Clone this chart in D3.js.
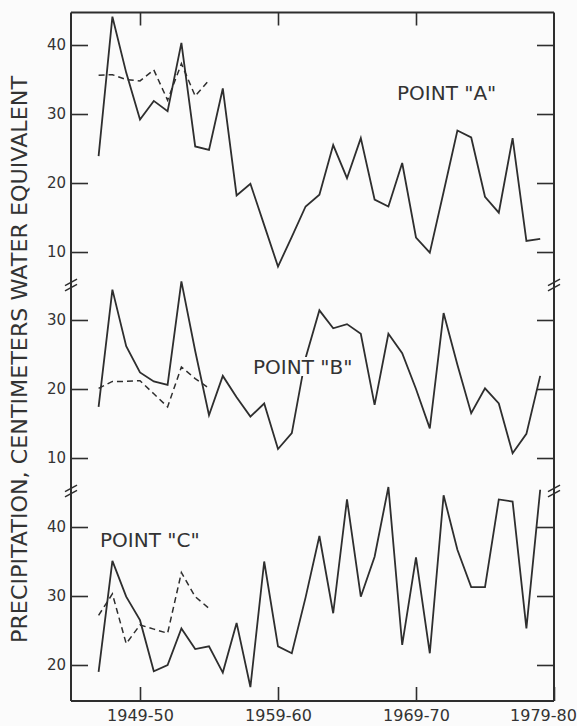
<!DOCTYPE html>
<html>
<head>
<meta charset="utf-8">
<script src="https://cdn.jsdelivr.net/npm/d3@7"></script>
<style>
  html, body { margin: 0; padding: 0; background: #fbfbfb; }
  svg { display: block; }
  text { font-family: "DejaVu Sans", sans-serif; fill: #333; }
</style>
</head>
<body>
<svg id="chart" width="577" height="726"></svg>
<script>
// ---------- DATA ----------
// water years: 1946 = 1946-47 ... 1978 = 1978-79
const waterYears = [1946,1947,1948,1949,1950,1951,1952,1953,1954,1955,1956,1957,1958,1959,1960,1961,1962,
                    1963,1964,1965,1966,1967,1968,1969,1970,1971,1972,1973,1974,1975,1976,1977,1978];
const xTickYears  = [1949, 1959, 1969, 1979];
const xTickLabels = ["1949-50", "1959-60", "1969-70", "1979-80"];

// Point "A" (cm water equivalent)
const pointA = [23.9, 44.1, 36.0, 29.2, 31.9, 30.4, 40.3, 25.3, 24.8, 33.7, 18.2, 19.9, 13.9, 7.9, 12.2, 16.6, 18.3,
                25.5, 20.7, 26.5, 17.6, 16.6, 22.9, 12.1, 9.9, 18.7, 27.6, 26.6, 18.0, 15.7, 26.5, 11.6, 11.9];
const pointADashed = [35.6, 35.7, 35.0, 34.8, 36.4, 32.0, 37.3, 32.6, 34.9];

// Point "B"
const pointB = [17.4, 34.4, 26.2, 22.4, 21.1, 20.6, 35.6, 25.5, 16.2, 21.9, 18.8, 16.0, 17.9, 11.3, 13.6, 24.5, 31.4,
                28.8, 29.4, 28.0, 17.7, 28.0, 25.2, 20.0, 14.3, 31.0, 23.5, 16.5, 20.1, 17.9, 10.7, 13.5, 21.9];
const pointBDashed = [20.1, 21.1, 21.1, 21.2, 19.3, 17.4, 23.2, 21.5, 20.1];

// Point "C"
const pointC = [19.0, 35.1, 29.9, 26.5, 19.1, 20.0, 25.3, 22.3, 22.7, 18.9, 26.1, 16.8, 35.0, 22.7, 21.7, 29.8, 38.7,
                27.5, 44.0, 29.9, 35.7, 45.8, 22.9, 35.6, 21.7, 44.6, 36.7, 31.3, 31.3, 44.0, 43.7, 25.3, 45.4];
const pointCDashed = [27.2, 30.3, 23.1, 25.8, 25.2, 24.6, 33.4, 29.9, 28.2];

const ticksA = [10, 20, 30, 40];
const ticksB = [10, 20, 30];
const ticksC = [20, 30, 40];

const panelLabels = ['POINT "A"', 'POINT "B"', 'POINT "C"'];
const yTitle = "PRECIPITATION, CENTIMETERS WATER EQUIVALENT";

// ---------- LAYOUT ----------
const plotL = 71, plotR = 554, plotT = 12.5, plotB = 701;
const breakAB = 285, breakBC = 491;
const ink = "#2e2e2e";

const svg = d3.select("#chart");
svg.append("rect").attr("width", 577).attr("height", 726).attr("fill", "#fbfbfb");

const x = d3.scaleLinear().domain([1944, 1979]).range([plotL, plotR]);

const panels = [
  { solid: pointA, dashed: pointADashed, ticks: ticksA, label: panelLabels[0],
    y: d3.scaleLinear().domain([5.22, 44.71]).range([breakAB, plotT]), lx: 397, ly: 100, mask: false },
  { solid: pointB, dashed: pointBDashed, ticks: ticksB, label: panelLabels[1],
    y: d3.scaleLinear().domain([5.22, 35.07]).range([breakBC, breakAB]), lx: 253, ly: 374, mask: true },
  { solid: pointC, dashed: pointCDashed, ticks: ticksC, label: panelLabels[2],
    y: d3.scaleLinear().domain([14.78, 45.22]).range([plotB, breakBC]), lx: 100, ly: 547, mask: false }
];

// frame
const frame = svg.append("g").attr("stroke", ink).attr("stroke-width", 2).attr("fill", "none");
frame.append("line").attr("x1", plotL).attr("x2", plotL).attr("y1", plotT).attr("y2", plotB);
frame.append("line").attr("x1", plotR).attr("x2", plotR).attr("y1", plotT).attr("y2", plotB);
frame.append("line").attr("x1", plotL).attr("x2", plotR).attr("y1", plotT).attr("y2", plotT);
frame.append("line").attr("x1", plotL).attr("x2", plotR).attr("y1", plotB).attr("y2", plotB);

function styleAxis(g) {
  g.select(".domain").remove();
  g.selectAll(".tick line").attr("stroke", ink).attr("stroke-width", 1.6);
  g.selectAll(".tick text").attr("fill", "#333").style("font-family", '"DejaVu Sans", sans-serif');
}

// y axes per panel
panels.forEach(p => {
  svg.append("g").attr("transform", `translate(${plotL},0)`)
    .call(d3.axisLeft(p.y).tickValues(p.ticks).tickSizeInner(-17).tickSizeOuter(0).tickPadding(5).tickFormat(d3.format("d")))
    .call(styleAxis)
    .selectAll(".tick text").style("font-size", "15px");
  svg.append("g").attr("transform", `translate(${plotR},0)`)
    .call(d3.axisRight(p.y).tickValues(p.ticks).tickSizeInner(-17).tickSizeOuter(0).tickFormat(""))
    .call(styleAxis);
});

// x axes
const xb = svg.append("g").attr("transform", `translate(0,${plotB})`)
  .call(d3.axisBottom(x).tickValues(xTickYears).tickSizeInner(-14).tickSizeOuter(0).tickPadding(9)
        .tickFormat((d, i) => xTickLabels[i]))
  .call(styleAxis);
xb.selectAll(".tick text").style("font-size", "16px")
  .attr("dx", (d, i) => i === xTickYears.length - 1 ? -11 : 0);
svg.append("g").attr("transform", `translate(0,${plotT})`)
  .call(d3.axisTop(x).tickValues(xTickYears.slice(0, 3)).tickSizeInner(-13).tickSizeOuter(0).tickFormat(""))
  .call(styleAxis);

// break marks
[breakAB, breakBC].forEach(by => {
  [plotL, plotR].forEach(bx => {
    [-2.6, 2.6].forEach(o => {
      svg.append("line")
        .attr("x1", bx - 6).attr("y1", by + o + 3.2)
        .attr("x2", bx + 6).attr("y2", by + o - 3.2)
        .attr("stroke", ink).attr("stroke-width", 1.5);
    });
  });
});

// series
panels.forEach(p => {
  const lineGen = d3.line().x((d, i) => x(waterYears[i])).y(d => p.y(d));
  svg.append("path").datum(p.solid).attr("d", lineGen)
    .attr("fill", "none").attr("stroke", ink).attr("stroke-width", 1.8).attr("stroke-linejoin", "miter");
  svg.append("path").datum(p.dashed).attr("d", lineGen)
    .attr("fill", "none").attr("stroke", ink).attr("stroke-width", 1.5).attr("stroke-dasharray", "6,4");
});

// panel labels
panels.forEach(p => {
  const g = svg.append("g");
  const t = g.append("text").attr("x", p.lx).attr("y", p.ly)
    .style("font-size", "20px").text(p.label);
  if (p.mask) {
    const bb = t.node().getBBox();
    g.insert("rect", "text").attr("x", bb.x - 2).attr("y", p.ly - 17).attr("width", bb.width + 4).attr("height", 19)
      .attr("fill", "#fbfbfb");
  }
});

// y title
svg.append("text")
  .attr("transform", `translate(27,${359.5}) rotate(-90)`)
  .attr("text-anchor", "middle")
  .attr("textLength", 567)
  .attr("lengthAdjust", "spacingAndGlyphs")
  .style("font-size", "21px")
  .text(yTitle);
</script>
</body>
</html>
